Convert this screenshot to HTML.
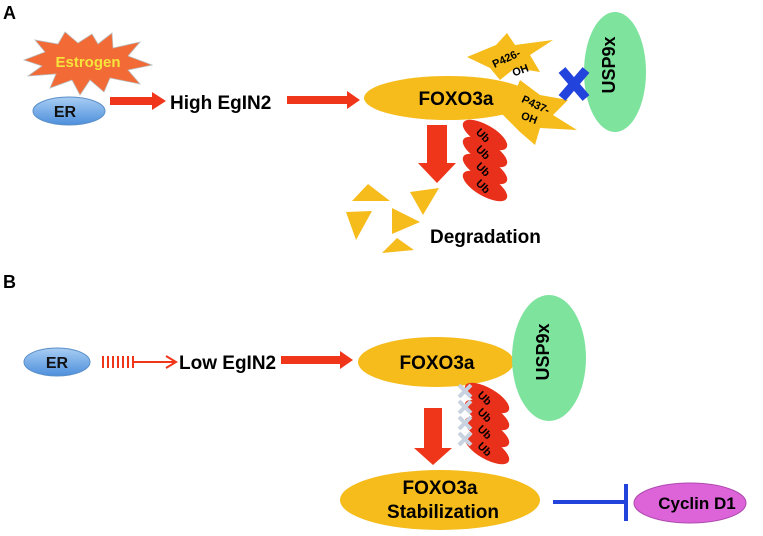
<!DOCTYPE html>
<html><head><style>body{margin:0;background:#fff}svg{display:block}text{font-family:"Liberation Sans",sans-serif;font-weight:bold}</style></head><body>
<svg width="763" height="536" viewBox="0 0 763 536">
<defs>
<linearGradient id="bl" x1="0" y1="0" x2="0" y2="1"><stop offset="0" stop-color="#a8cdf3"/><stop offset="1" stop-color="#4d8fdc"/></linearGradient>
</defs>
<text x="3" y="19" font-size="18">A</text>
<text x="3" y="288" font-size="18">B</text>
<polygon points="24,60 45,52 35,40 58,44 65,32 78,43 92,34 98,44 112,33 113,48 140,42 128,56 152,65 128,70 140,84 110,78 104,92 90,80 80,95 72,80 50,88 56,74 28,76 42,66" fill="#f26a35" stroke="#bbb" stroke-width="0.8"/>
<text x="88" y="67" font-size="15" fill="#f7e43a" text-anchor="middle">Estrogen</text>
<ellipse cx="69" cy="111" rx="36" ry="14" fill="url(#bl)" stroke="#5b8fc7"/>
<text x="65" y="117" font-size="16" fill="#111" text-anchor="middle">ER</text>
<polygon points="110,97 152,97 152,92 166,101 152,110 152,105 110,105" fill="#f0361a"/>
<text x="170" y="109" font-size="19">High EgIN2</text>
<polygon points="287,96 347,96 347,91 360,100 347,109 347,104 287,104" fill="#f0361a"/>
<polygon points="467,57 496,45 507,33 515,45 553,40 530,55 540,72 515,68 500,80 490,68" fill="#f5bc1c"/>
<polygon points="500,112 515,92 520,80 540,95 568,100 553,115 577,130 540,128 535,145 520,132" fill="#f5bc1c"/>
<ellipse cx="448" cy="98" rx="84" ry="22" fill="#f5bc1c"/>
<text x="456" y="105" font-size="19" text-anchor="middle">FOXO3a</text>
<text x="493" y="63" font-size="11" transform="rotate(-25 505 62)">P426-</text>
<text x="512" y="74" font-size="11" transform="rotate(-20 520 70)">OH</text>
<text x="520" y="106" font-size="11" transform="rotate(25 530 106)">P437-</text>
<text x="520" y="122" font-size="11" transform="rotate(20 530 121)">OH</text>
<ellipse cx="615" cy="72" rx="31" ry="60" fill="#7de39d"/>
<text x="622" y="72" font-size="18" text-anchor="middle" transform="rotate(-90 615 72)">USP9x</text>
<g stroke="#2244dd" stroke-width="9"><line x1="562" y1="70" x2="586" y2="98"/><line x1="586" y1="70" x2="562" y2="98"/></g>
<g fill="#e8301a">
<ellipse cx="485" cy="135" rx="25" ry="10" transform="rotate(30 485 135)"/>
<ellipse cx="485" cy="152" rx="25" ry="10" transform="rotate(30 485 152)"/>
<ellipse cx="485" cy="169" rx="25" ry="10" transform="rotate(30 485 169)"/>
<ellipse cx="485" cy="186" rx="25" ry="10" transform="rotate(30 485 186)"/>
</g>
<g font-size="11"><text x="476" y="139" transform="rotate(45 483 135)">Ub</text><text x="476" y="156" transform="rotate(45 483 152)">Ub</text><text x="476" y="173" transform="rotate(45 483 169)">Ub</text><text x="476" y="190" transform="rotate(45 483 186)">Ub</text></g>
<polygon points="427,125 447,125 447,163 456,163 437,183 418,163 427,163" fill="#f0361a"/>
<g fill="#f5bc1c">
<polygon points="352,201 368,184 390,201"/><polygon points="346,212 372,211 356,240"/>
<polygon points="410,192 439,188 423,215"/><polygon points="392,208 420,222 392,234"/>
<polygon points="382,253 397,238 414,250"/>
</g>
<text x="430" y="243" font-size="19">Degradation</text>
<ellipse cx="57" cy="362" rx="33" ry="14" fill="url(#bl)" stroke="#5b8fc7"/>
<text x="57" y="368" font-size="16" fill="#111" text-anchor="middle">ER</text>
<g stroke="#f0361a" stroke-width="2"><line x1="103" y1="356" x2="103" y2="368"/><line x1="108" y1="356" x2="108" y2="368"/><line x1="113" y1="356" x2="113" y2="368"/><line x1="118" y1="356" x2="118" y2="368"/><line x1="123" y1="356" x2="123" y2="368"/><line x1="128" y1="356" x2="128" y2="368"/><line x1="133" y1="356" x2="133" y2="368"/><line x1="133" y1="362" x2="174" y2="362"/><polyline points="166,356 176,362 166,368" fill="none"/></g>
<text x="179" y="369" font-size="19">Low EgIN2</text>
<polygon points="281,356 340,356 340,351 353,360 340,369 340,364 281,364" fill="#f0361a"/>
<ellipse cx="436" cy="362" rx="78" ry="25" fill="#f5bc1c"/>
<text x="437" y="369" font-size="19" text-anchor="middle">FOXO3a</text>
<ellipse cx="549" cy="358" rx="37" ry="63" fill="#7de39d"/>
<text x="555" y="358" font-size="18" text-anchor="middle" transform="rotate(-90 549 358)">USP9x</text>
<g fill="#e8301a">
<ellipse cx="487" cy="398" rx="25" ry="10" transform="rotate(30 487 398)"/>
<ellipse cx="487" cy="415" rx="25" ry="10" transform="rotate(30 487 415)"/>
<ellipse cx="487" cy="432" rx="25" ry="10" transform="rotate(30 487 432)"/>
<ellipse cx="487" cy="449" rx="25" ry="10" transform="rotate(30 487 449)"/>
</g>
<g font-size="11"><text x="478" y="401" transform="rotate(45 484 397)">Ub</text><text x="478" y="418" transform="rotate(45 484 414)">Ub</text><text x="478" y="435" transform="rotate(45 484 431)">Ub</text><text x="478" y="452" transform="rotate(45 484 448)">Ub</text></g>
<g stroke="#c8d2e0" stroke-width="4"><path d="M459,385 l12,12 M471,385 l-12,12 M459,401 l12,12 M471,401 l-12,12 M459,417 l12,12 M471,417 l-12,12 M459,433 l12,12 M471,433 l-12,12"/></g>
<polygon points="424,408 442,408 442,448 452,448 433,465 414,448 424,448" fill="#f0361a"/>
<ellipse cx="440" cy="500" rx="100" ry="30" fill="#f5bc1c"/>
<text x="440" y="494" font-size="19" text-anchor="middle">FOXO3a</text>
<text x="443" y="518" font-size="19" text-anchor="middle">Stabilization</text>
<line x1="553" y1="502" x2="626" y2="502" stroke="#2244dd" stroke-width="4"/>
<line x1="626" y1="484" x2="626" y2="521" stroke="#2244dd" stroke-width="4"/>
<ellipse cx="690" cy="503" rx="56" ry="20" fill="#dc64d8" stroke="#b04ab0"/>
<text x="697" y="509" font-size="17" text-anchor="middle">Cyclin D1</text>
</svg>
</body></html>
